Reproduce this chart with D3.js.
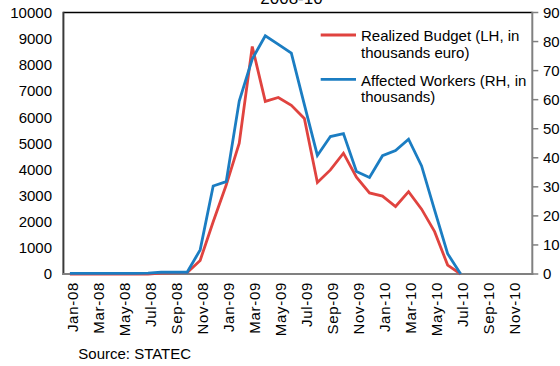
<!DOCTYPE html>
<html><head><meta charset="utf-8">
<script src="https://cdn.jsdelivr.net/npm/d3@7"></script>
<style>
html,body{margin:0;padding:0;background:#fff;}
svg{display:block;font-family:"Liberation Sans",Arial,sans-serif;}
</style></head>
<body><svg id="c" width="560" height="366"></svg>
<script>
const months = ["Jan-08","Feb-08","Mar-08","Apr-08","May-08","Jun-08","Jul-08","Aug-08","Sep-08","Oct-08","Nov-08","Dec-08",
"Jan-09","Feb-09","Mar-09","Apr-09","May-09","Jun-09","Jul-09","Aug-09","Sep-09","Oct-09","Nov-09","Dec-09",
"Jan-10","Feb-10","Mar-10","Apr-10","May-10","Jun-10","Jul-10","Aug-10","Sep-10","Oct-10","Nov-10","Dec-10"];
const tickMonths = months.filter((d,i)=>i%2===0);
// Realized Budget (LH, thousands euro), Jan-08 .. Jul-10
const budget = [0,0,0,0,0,0,0,30,40,50,520,2000,
3400,5000,8700,6600,6750,6450,5950,3500,3980,4620,3700,3100,
2980,2580,3150,2480,1620,340,0];
// Affected Workers (RH, thousands), Jan-08 .. Jul-10
const workers = [0.2,0.2,0.2,0.2,0.2,0.2,0.3,0.6,0.6,0.6,8.3,30.3,
31.8,59.5,74,82,79,76,58.3,40.8,47.3,48.3,35.3,33.2,
40.7,42.5,46.4,37.2,22,7,0];
const leftTicks = [0,1000,2000,3000,4000,5000,6000,7000,8000,9000,10000];
const rightTicks = [0,10,20,30,40,50,60,70,80,90];
const seriesNames = ["Realized Budget (LH, in|thousands euro)","Affected Workers (RH, in|thousands)"];
const title = "2008-10";
const source = "Source: STATEC";

const RED="#e0433f", BLUE="#1b7dc2";
const L=63.4, R=532.3, T=12.5, B=274;
const svg=d3.select("#c");
const x=d3.scaleBand().domain(months).range([L,R]).padding(0);
const cx=m=>x(m)+x.bandwidth()/2;
const yL=d3.scaleLinear().domain([0,10000]).range([B,T]);
const yR=d3.scaleLinear().domain([0,90]).range([B,T]);

// title (partially clipped at top)
svg.append("text").attr("x",291.5).attr("y",4).attr("text-anchor","middle")
  .attr("font-size",17).text(title);

// frame
svg.append("line").attr("x1",L).attr("x2",R).attr("y1",T).attr("y2",T).attr("stroke","#000").attr("stroke-width",1.5);
svg.append("line").attr("x1",L).attr("x2",L).attr("y1",T-0.7).attr("y2",B+1).attr("stroke","#3a3a3a").attr("stroke-width",2);

// left tick labels
svg.append("g").selectAll("text").data(leftTicks).join("text")
  .attr("x",52).attr("y",d=>yL(d)).attr("dy","0.36em").attr("text-anchor","end")
  .attr("font-size",15).attr("fill","#000").text(d=>d);

// right axis
const gR=svg.append("g");
gR.append("line").attr("x1",R).attr("x2",R).attr("y1",T-0.7).attr("y2",B+1).attr("stroke","#808080").attr("stroke-width",2);
gR.selectAll("line.t").data(rightTicks).join("line").attr("class","t")
  .attr("x1",R).attr("x2",R+6).attr("y1",d=>yR(d)).attr("y2",d=>yR(d)).attr("stroke","#808080").attr("stroke-width",1.5);
gR.selectAll("text").data(rightTicks).join("text")
  .attr("x",543).attr("y",d=>yR(d)).attr("dy","0.36em").attr("font-size",15).text(d=>d);

// bottom axis
svg.append("line").attr("x1",L-1).attr("x2",R+1).attr("y1",B).attr("y2",B).attr("stroke","#808080").attr("stroke-width",2);

// x labels
svg.append("g").selectAll("text").data(tickMonths).join("text")
  .attr("transform",d=>`translate(${cx(d)+7.6},282) rotate(-90)`)
  .attr("text-anchor","end").attr("font-size",15).attr("letter-spacing","0.7px").text(d=>d);

// lines
const lineL=d3.line().x((d,i)=>cx(months[i])).y(d=>yL(d));
const lineR=d3.line().x((d,i)=>cx(months[i])).y(d=>yR(d));
svg.append("path").datum(budget).attr("d",lineL).attr("fill","none").attr("stroke",RED).attr("stroke-width",2.8).attr("stroke-linejoin","miter");
svg.append("path").datum(workers).attr("d",lineR).attr("fill","none").attr("stroke",BLUE).attr("stroke-width",2.8).attr("stroke-linejoin","miter");

// legend
const leg=[{c:RED,y:35,b:[40.5,57.5]},{c:BLUE,y:79.3,b:[86,102]}];
leg.forEach((l,i)=>{
  svg.append("line").attr("x1",320.7).attr("x2",356).attr("y1",l.y).attr("y2",l.y).attr("stroke",l.c).attr("stroke-width",2.8);
  const parts=seriesNames[i].split("|");
  parts.forEach((p,j)=>svg.append("text").attr("x",361).attr("y",l.b[j]).attr("font-size",15).text(p));
});

// source
svg.append("text").attr("x",78.3).attr("y",358.5).attr("font-size",15).text(source);
</script></body></html>
